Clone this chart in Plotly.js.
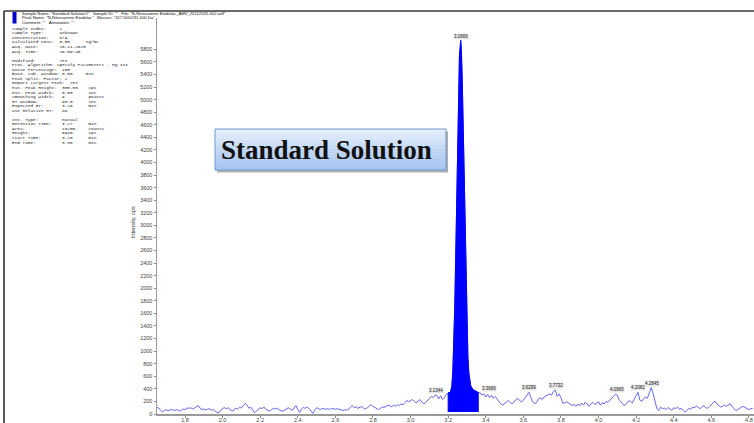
<!DOCTYPE html>
<html>
<head>
<meta charset="utf-8">
<script src="https://cdn.plot.ly/plotly-3.0.1.min.js"></script>
<style>html,body{margin:0;padding:0;background:#fff;}#chart{width:754px;height:423px;}</style>
</head>
<body>
<div id="chart"></div>
<script>
// ---------------- DATA ----------------
// Baseline signal before the peak: 1.65 .. 3.19 min, one value per 0.01 min
const preStartTime = 1.65;
const scanInterval = 0.01;
const preIntensity = [
  110,95,60,30,55,
  70,50,65,75,55,60,70,45,55,80,
  70,95,90,100,80,95,120,135,95,70,
  80,65,75,85,60,70,45,25,20,55,
  90,100,85,100,70,45,60,95,80,105,
  95,130,170,140,90,110,60,20,45,80,
  100,85,110,75,55,45,70,90,80,95,
  70,50,45,65,90,100,80,55,95,135,
  70,25,80,105,90,110,85,40,10,60,
  100,85,70,90,80,75,85,70,90,80,
  75,85,80,65,55,70,60,75,110,135,
  100,115,90,100,120,95,80,100,130,150,
  120,100,85,70,90,110,105,125,140,130,
  115,140,125,150,135,160,145,180,215,195,
  215,230,200,175,210,230,195,160,180,220,
  250,280,260,300,295,240,290,230,260,310
];
// Integrated peak region (3.20 .. 3.36 min)
const peakTimes = [3.200,3.205,3.210,3.215,3.220,3.225,3.230,3.235,3.240,3.245,3.250,3.255,3.260,3.2666,3.270,3.275,3.280,3.285,3.290,3.295,3.300,3.305,3.310,3.315,3.320,3.325,3.330,3.335,3.340,3.345,3.350,3.355,3.360];
const peakIntensity = [330,350,320,380,450,700,1100,1700,2500,3400,4300,5100,5700,5940,5800,5300,4500,3600,2700,1900,1300,900,650,520,450,420,390,380,375,370,360,350,340];
const peakBaseline = [30, 30];   // integration baseline at start / end time
// Baseline signal after the peak: 3.37 .. 4.82 min
const postStartTime = 3.37;
const postIntensity = [
  340,300,320,
  270,310,260,300,250,280,240,190,160,140,
  170,200,215,185,160,190,230,245,210,190,
  220,260,310,345,260,190,165,180,240,255,
  230,270,290,310,320,300,360,380,280,320,
  260,170,175,195,170,145,135,150,120,160,
  130,175,140,190,150,120,165,185,150,175,
  195,140,180,160,200,185,215,240,280,315,
  300,220,190,150,135,170,210,200,175,240,
  300,345,220,200,240,270,250,330,420,330,
  200,90,55,110,85,95,70,105,80,60,
  100,85,110,75,90,60,30,55,90,75,
  110,95,130,105,85,115,135,100,90,120,
  150,175,205,160,130,110,125,140,120,150,
  165,120,80,55,70,95,110,120,105,85,
  70,85,90
];
// Labelled peaks
const labelTimes  = [3.1344, 3.2666, 3.3666, 3.6299, 3.7732, 4.0965, 4.2082, 4.2845];
const labelHeights = [300, 5940, 340, 345, 380, 315, 345, 420];
const labelTexts  = ["3.1344","3.2666","3.3666","3.6299","3.7732","4.0965","4.2082","4.2845"];
// Axis ticks
const xTickValues = [1.8,2.0,2.2,2.4,2.6,2.8,3.0,3.2,3.4,3.6,3.8,4.0,4.2,4.4,4.6,4.8];
const yTickValues = [0,200,400,600,800,1000,1200,1400,1600,1800,2000,2200,2400,2600,2800,3000,3200,3400,3600,3800,4000,4200,4400,4600,4800,5000,5200,5400,5600,5800];
// Header text
const headerTop = [
  'Sample Name: "Standard Solution1"   Sample ID: ""   File: "N-Nitrosamine Etodolac_AMV_20112025-002.wiff"',
  'Peak Name: "N-Nitrosamine Etodolac"   Masses: "317.500/231.400 Da"',
  'Comment: ""   Annotation: ""'
];
const headerLines = [
  "Sample Index:     1",
  "Sample Type:      Unknown",
  "Concentration:    N/A",
  "Calculated Conc:  0.00      ng/mL",
  "Acq. Date:        20-11-2025",
  "Acq. Time:        16:59:40",
  "",
  "Modified:         Yes",
  "Proc. Algorithm: Specify Parameters - MQ III",
  "Noise Percentage:  100",
  "Base. Sub. Window: 0.50     min",
  "Peak Split. Factor: 2",
  "Report Largest Peak:  Yes",
  "Min. Peak Height:  300.00    cps",
  "Min. Peak Width:   0.00      sec",
  "Smoothing Width:   9         points",
  "RT Window:         90.0      sec",
  "Expected RT:       3.26      min",
  "Use Relative RT:   No",
  "",
  "Int. Type:         Manual",
  "Retention Time:    3.27      min",
  "Area:              16205.    counts",
  "Height:            5940.     cps",
  "Start Time:        3.20      min",
  "End Time:          3.36      min"
];
const boxLabel = "Standard Solution";

// ---------------- BUILD ----------------
const W = 754, H = 423;
const M = {l: 157, r: 0, t: 18, b: 9};
const pxX = x => (x - M.l) / (W - M.l - M.r);
const pxY = y => 1 - (y - M.t) / (H - M.t - M.b);

const preTimes = preIntensity.map((v, i) => +(preStartTime + i * scanInterval).toFixed(4));
const postTimes = postIntensity.map((v, i) => +(postStartTime + i * scanInterval).toFixed(4));

const allX = preTimes.concat(peakTimes, postTimes);
const allY = preIntensity.concat(peakIntensity, postIntensity);

const fillTrace = {
  x: [peakTimes[0]].concat(peakTimes, [peakTimes[peakTimes.length - 1]]),
  y: [peakBaseline[0]].concat(peakIntensity, [peakBaseline[1]]),
  mode: 'lines', fill: 'toself', fillcolor: '#0000ff',
  line: {color: '#0000ff', width: 1}, hoverinfo: 'skip', showlegend: false
};
const lineTrace = {
  x: allX, y: allY, mode: 'lines',
  line: {color: '#6666f6', width: 1}, showlegend: false
};

const annotations = [];
labelTexts.forEach((t, i) => {
  annotations.push({
    x: labelTimes[i], y: labelHeights[i], xref: 'x', yref: 'y',
    text: t, showarrow: false, yanchor: 'bottom',
    xanchor: i === 2 ? 'left' : 'center', xshift: i === 2 ? 2 : 0, yshift: 1,
    font: {family: 'Liberation Sans, Arial', size: 4.5, color: '#222'},
    bgcolor: '#e6e6e6', borderpad: 0
  });
});
headerTop.forEach((t, i) => {
  annotations.push({
    x: pxX(20), y: pxY(13.4 + i * 4.45), xref: 'paper', yref: 'paper',
    text: t, showarrow: false, xanchor: 'left', yanchor: 'middle',
    font: {family: 'Liberation Sans, Arial', size: 4.2, color: '#111'}
  });
});
headerLines.forEach((t, i) => {
  if (!t) return;
  annotations.push({
    x: pxX(10), y: pxY(28.3 + i * 4.55), xref: 'paper', yref: 'paper',
    text: t.replace(/ /g, '&nbsp;'), showarrow: false, xanchor: 'left', yanchor: 'middle',
    font: {family: 'Liberation Mono, Courier New, monospace', size: 4.4, color: '#222'}
  });
});
annotations.push({
  x: pxX(133), y: pxY(222), xref: 'paper', yref: 'paper',
  text: 'Intensity, cps', textangle: -90, showarrow: false,
  xanchor: 'center', yanchor: 'middle',
  font: {family: 'Liberation Sans, Arial', size: 5.5, color: '#333'}
});
annotations.push({
  x: pxX(326), y: pxY(150), xref: 'paper', yref: 'paper',
  text: boxLabel, showarrow: false, xanchor: 'center', yanchor: 'middle',
  font: {family: 'Liberation Serif, Times New Roman, serif', size: 27, color: '#111', weight: 'bold'}
});

const shapes = [];
// frame
shapes.push({type: 'line', xref: 'paper', yref: 'paper', x0: pxX(4), x1: pxX(754), y0: pxY(11), y1: pxY(11), line: {color: '#6a6a6a', width: 2}});
shapes.push({type: 'line', xref: 'paper', yref: 'paper', x0: pxX(4), x1: pxX(4), y0: pxY(11), y1: pxY(423), line: {color: '#222', width: 1.5}});
// blue marker bar in header
shapes.push({type: 'rect', xref: 'paper', yref: 'paper', x0: pxX(12.5), x1: pxX(16.5), y0: pxY(12), y1: pxY(23.5), fillcolor: '#0000cc', line: {width: 0}});
// label box: shadow, gradient bands, border
const bx0 = 215, bx1 = 446, by0 = 129, by1 = 170;
shapes.push({type: 'rect', xref: 'paper', yref: 'paper', x0: pxX(bx0 + 2), x1: pxX(bx1 + 2), y0: pxY(by0 + 2.5), y1: pxY(by1 + 2.5), fillcolor: 'rgba(110,110,110,0.55)', line: {width: 0}});
const nb = 14;
const c0 = [228, 238, 252], c1 = [166, 198, 242];
for (let i = 0; i < nb; i++) {
  const f = i / (nb - 1);
  const c = c0.map((v, k) => Math.round(v + (c1[k] - v) * f));
  const ya = by0 + (by1 - by0) * i / nb, yb = by0 + (by1 - by0) * (i + 1) / nb;
  shapes.push({type: 'rect', xref: 'paper', yref: 'paper', x0: pxX(bx0), x1: pxX(bx1), y0: pxY(ya), y1: pxY(yb + 0.3), fillcolor: `rgb(${c[0]},${c[1]},${c[2]})`, line: {width: 0}});
}
shapes.push({type: 'rect', xref: 'paper', yref: 'paper', x0: pxX(bx0), x1: pxX(bx1), y0: pxY(by0), y1: pxY(by1), fillcolor: 'rgba(0,0,0,0)', line: {color: '#7397d2', width: 1}});

const axisFont = {family: 'Liberation Sans, Arial', size: 5.5, color: '#444'};
const layout = {
  width: W, height: H,
  margin: M,
  paper_bgcolor: '#ffffff', plot_bgcolor: '#ffffff',
  showlegend: false,
  xaxis: {
    range: [1.651, 4.827], tickmode: 'array', tickvals: xTickValues, tickformat: '.1f',
    ticks: 'outside', ticklen: 2, tickcolor: '#888', tickwidth: 1,
    showline: true, linecolor: '#999', linewidth: 1.5, showgrid: false, zeroline: false,
    tickfont: axisFont, ticklabelstandoff: -2
  },
  yaxis: {
    range: [0, 6298], tickmode: 'array', tickvals: yTickValues,
    ticks: 'outside', ticklen: 2, tickcolor: '#888', tickwidth: 1,
    showline: true, linecolor: '#999', linewidth: 1.5, showgrid: false, zeroline: false,
    tickfont: axisFont
  },
  annotations: annotations,
  shapes: shapes
};

Plotly.newPlot('chart', [lineTrace, fillTrace], layout, {displayModeBar: false, staticPlot: true});
</script>
</body>
</html>
